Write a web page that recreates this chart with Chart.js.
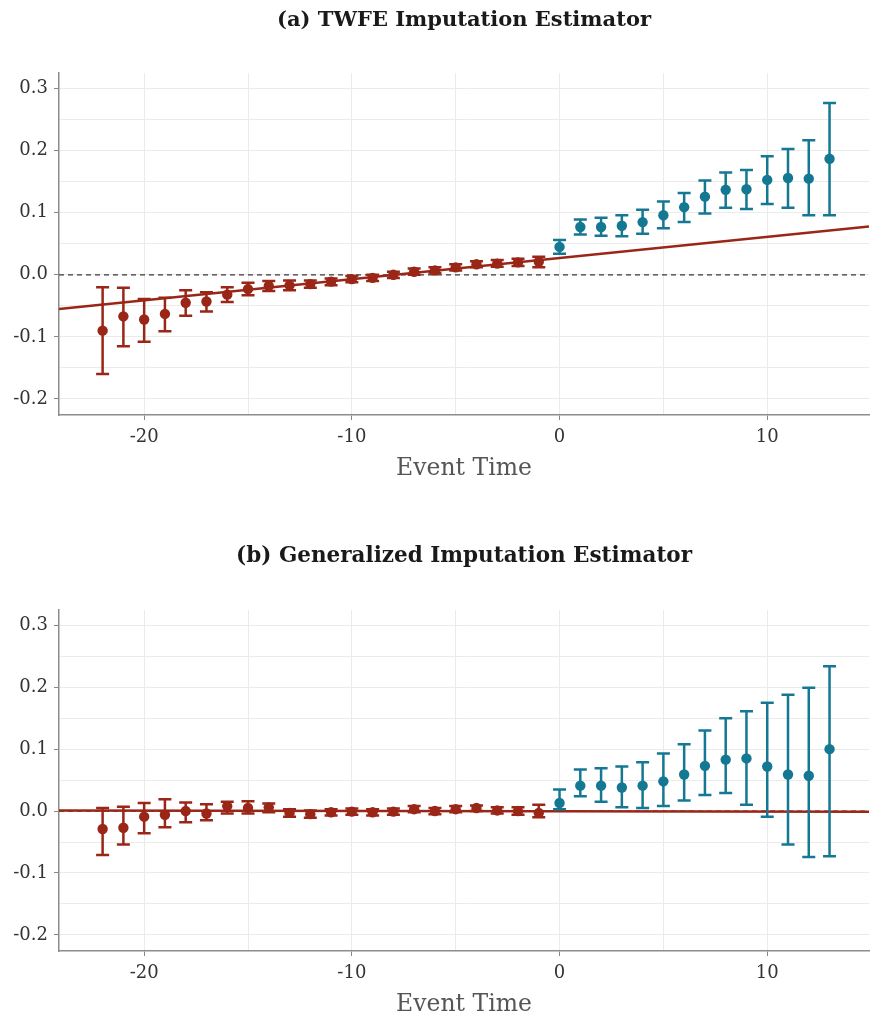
<!DOCTYPE html>
<html>
<head>
<meta charset="utf-8">
<script src="https://cdn.jsdelivr.net/npm/chart.js@4"></script>
<style>
  body { margin: 0; background: #fff; }
  #wrap { position: relative; width: 870px; height: 1020px; }
  .panel { position: absolute; left: 0; }
</style>
</head>
<body>
<div id="wrap">
  <canvas id="chartA" class="panel" style="top:0px" width="870" height="484"></canvas>
  <canvas id="chartB" class="panel" style="top:536px" width="870" height="484"></canvas>
</div>
<script>
// event times
const preTimes = [-22, -21, -20, -19, -18, -17, -16, -15, -14, -13, -12, -11, -10, -9, -8, -7, -6, -5, -4, -3, -2, -1];
const postTimes = [0, 1, 2, 3, 4, 5, 6, 7, 8, 9, 10, 11, 12, 13];

// (a) TWFE imputation estimator
const twfePre   = [-0.090, -0.067, -0.072, -0.063, -0.045, -0.043, -0.032, -0.023, -0.018, -0.017, -0.015, -0.011, -0.007, -0.005, 0.000, 0.005, 0.007, 0.012, 0.017, 0.018, 0.020, 0.021];
const twfePreLo = [-0.160, -0.115, -0.108, -0.091, -0.066, -0.059, -0.044, -0.033, -0.026, -0.025, -0.021, -0.017, -0.012, -0.010, -0.005, 0.000, 0.003, 0.007, 0.012, 0.013, 0.014, 0.012];
const twfePreHi = [-0.020, -0.021, -0.039, -0.037, -0.025, -0.028, -0.020, -0.013, -0.010, -0.009, -0.009, -0.006, -0.002, 0.000, 0.005, 0.010, 0.012, 0.017, 0.022, 0.024, 0.026, 0.029];
const twfePost   = [0.045, 0.077, 0.077, 0.079, 0.085, 0.096, 0.109, 0.126, 0.137, 0.138, 0.153, 0.156, 0.155, 0.187];
const twfePostLo = [0.034, 0.065, 0.063, 0.062, 0.066, 0.075, 0.085, 0.099, 0.108, 0.106, 0.114, 0.108, 0.096, 0.096];
const twfePostHi = [0.056, 0.089, 0.092, 0.096, 0.105, 0.118, 0.132, 0.152, 0.165, 0.169, 0.191, 0.203, 0.217, 0.277];
const twfeTrend  = [-0.055, 0.078];

// (b) generalized imputation estimator
const genPre   = [-0.029, -0.027, -0.009, -0.006, 0.000, -0.004, 0.008, 0.005, 0.006, -0.003, -0.005, -0.002, -0.001, -0.002, -0.001, 0.003, 0.000, 0.003, 0.005, 0.001, 0.000, -0.003];
const genPreLo = [-0.071, -0.054, -0.036, -0.026, -0.018, -0.015, -0.004, -0.004, -0.002, -0.009, -0.011, -0.007, -0.006, -0.007, -0.006, -0.002, -0.005, -0.002, 0.000, -0.004, -0.006, -0.010];
const genPreHi = [0.005, 0.007, 0.013, 0.019, 0.014, 0.011, 0.015, 0.016, 0.012, 0.003, 0.001, 0.003, 0.004, 0.003, 0.004, 0.008, 0.005, 0.008, 0.009, 0.006, 0.006, 0.010];
const genPost   = [0.013, 0.041, 0.041, 0.038, 0.041, 0.048, 0.059, 0.073, 0.083, 0.085, 0.072, 0.059, 0.057, 0.100];
const genPostLo = [0.003, 0.024, 0.015, 0.006, 0.005, 0.008, 0.017, 0.026, 0.029, 0.010, -0.009, -0.054, -0.074, -0.073];
const genPostHi = [0.035, 0.067, 0.069, 0.072, 0.079, 0.093, 0.108, 0.130, 0.150, 0.161, 0.175, 0.188, 0.199, 0.234];
const genTrend  = [0.001, -0.001];

// axis ranges
const xRange = [-24.1, 14.9];
const yRange = [-0.226, 0.325];

const RED = '#9a2617';
const BLUE = '#147893';
const FONT = "'DejaVu Serif', 'Liberation Serif', serif";

// draws the confidence intervals under each point dataset
const errorBars = {
  id: 'errorBars',
  beforeDatasetDraw(chart, args) {
    const ds = chart.data.datasets[args.index];
    if (!ds.lo) return;
    const xs = chart.scales.x, ys = chart.scales.y;
    const ctx = chart.ctx;
    ctx.save();
    ctx.strokeStyle = ds.borderColor;
    ctx.lineWidth = 2.5;
    ds.data.forEach((p, i) => {
      const px = xs.getPixelForValue(p.x);
      const top = ys.getPixelForValue(ds.hi[i]);
      const bot = ys.getPixelForValue(ds.lo[i]);
      ctx.beginPath();
      ctx.moveTo(px, top); ctx.lineTo(px, bot);
      ctx.moveTo(px - 6.5, top); ctx.lineTo(px + 6.5, top);
      ctx.moveTo(px - 6.5, bot); ctx.lineTo(px + 6.5, bot);
      ctx.stroke();
    });
    ctx.restore();
  }
};

function isMajor(v, step) {
  return Math.abs(Math.round(v / step * 10)) % 10 === 0;
}

function makePanel(id, title, titleSize, pre, preLo, preHi, post, postLo, postHi, trend) {
  new Chart(document.getElementById(id), {
    type: 'scatter',
    data: {
      datasets: [
        {
          type: 'line', data: [{x: xRange[0], y: 0}, {x: xRange[1], y: 0}],
          borderColor: '#3a3a3a', borderWidth: 1.2, borderDash: [5, 4],
          pointRadius: 0, order: 4
        },
        {
          type: 'line', data: [{x: xRange[0], y: trend[0]}, {x: xRange[1], y: trend[1]}],
          borderColor: RED, borderWidth: 2.5, pointRadius: 0, order: 3
        },
        {
          data: preTimes.map((t, i) => ({x: t, y: pre[i]})), lo: preLo, hi: preHi,
          backgroundColor: RED, borderColor: RED, pointRadius: 5.2, pointBorderWidth: 0, order: 2
        },
        {
          data: postTimes.map((t, i) => ({x: t, y: post[i]})), lo: postLo, hi: postHi,
          backgroundColor: BLUE, borderColor: BLUE, pointRadius: 5.2, pointBorderWidth: 0, order: 1
        }
      ]
    },
    options: {
      responsive: false,
      animation: false,
      layout: { autoPadding: false, padding: { left: 0, right: 1, top: 0, bottom: 0 } },
      plugins: {
        legend: { display: false },
        tooltip: { enabled: false },
        title: {
          display: true, text: title, color: '#1a1a1a', fullSize: false,
          font: { family: FONT, size: titleSize, weight: 'bold' },
          padding: { top: 8, bottom: 40 }
        }
      },
      scales: {
        x: {
          type: 'linear', min: xRange[0], max: xRange[1],
          afterFit: s => { s.height = 69; },
          ticks: {
            stepSize: 5, includeBounds: false, padding: 7, color: '#333',
            font: { family: FONT, size: 18 },
            callback: v => isMajor(v, 10) ? String(v) : ''
          },
          grid: {
            color: '#ebebeb', lineWidth: 1, tickLength: 5,
            tickColor: c => (c.tick && isMajor(c.tick.value, 10)) ? '#888' : 'rgba(0,0,0,0)'
          },
          border: { display: true, color: '#8c8c8c', width: 1.5 },
          title: {
            display: true, text: 'Event Time', color: '#555',
            font: { family: FONT, size: 23.5 }, padding: { top: 0, bottom: 1 }
          }
        },
        y: {
          type: 'linear', min: yRange[0], max: yRange[1],
          afterFit: s => { s.width = 59; },
          ticks: {
            stepSize: 0.05, includeBounds: false, padding: 6, color: '#333',
            font: { family: FONT, size: 18 },
            callback: v => isMajor(v, 0.1) ? v.toFixed(1) : ''
          },
          grid: {
            color: '#ebebeb', lineWidth: 1, tickLength: 5,
            tickColor: c => (c.tick && isMajor(c.tick.value, 0.1)) ? '#888' : 'rgba(0,0,0,0)'
          },
          border: { display: true, color: '#8c8c8c', width: 1.5 }
        }
      }
    },
    plugins: [errorBars]
  });
}

makePanel('chartA', '(a) TWFE Imputation Estimator', 21,
  twfePre, twfePreLo, twfePreHi, twfePost, twfePostLo, twfePostHi, twfeTrend);
makePanel('chartB', '(b) Generalized Imputation Estimator', 21.5,
  genPre, genPreLo, genPreHi, genPost, genPostLo, genPostHi, genTrend);
</script>
</body>
</html>
